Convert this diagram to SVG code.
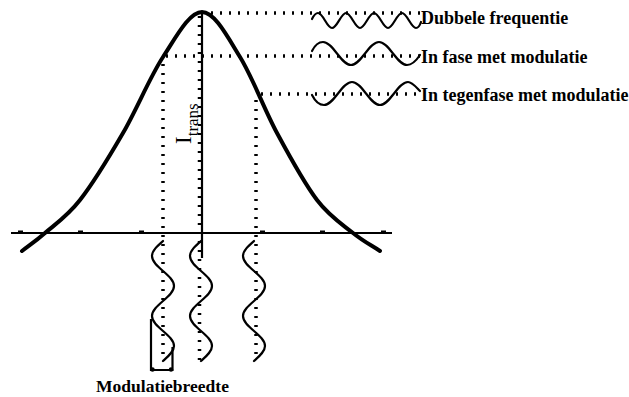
<svg xmlns="http://www.w3.org/2000/svg" width="629" height="397" viewBox="0 0 629 397">
<style>
.curve{fill:none;stroke:#000;stroke-width:4;stroke-linecap:round;stroke-linejoin:round}
.wave{fill:none;stroke:#000;stroke-width:2.2;stroke-linecap:round;stroke-linejoin:round}
.dot{fill:none;stroke:#000;stroke-width:3.5;stroke-dasharray:2 7}
.solid{fill:none;stroke:#000;stroke-width:2.2}
.lbl{font-family:"Liberation Serif","Times New Roman",serif;font-weight:bold;font-size:17.5px;fill:#000}
.rl{font-size:18px}
.sym{font-family:"Liberation Serif","Times New Roman",serif;fill:#000}
</style>
<rect width="629" height="397" fill="#fff"/>
<g id="axis">
<line class="solid" x1="11" y1="233" x2="392" y2="233"/>
<g fill="#000">
<rect x="18" y="230.5" width="5" height="2"/>
<rect x="78" y="230.5" width="5" height="2"/>
<rect x="139" y="230.5" width="5" height="2"/>
<rect x="260" y="230.5" width="5" height="2"/>
<rect x="320" y="230.5" width="5" height="2"/>
<rect x="381" y="230.5" width="5" height="2"/>
</g>
</g>
<g id="curve">
<path class="curve" d="M22,251 C29.7,245 35.3,241.5 45,233 C54.7,224.5 67,216.7 80,200 C93,183.3 109.2,156.8 123,133 C136.8,109.2 149.8,77.2 163,57 C176.2,36.8 189.2,12 202,12 C214.8,12 227.5,36.8 240,57 C252.5,77.2 264.2,109.2 277,133 C289.8,156.8 304.3,183.3 317,200 C329.7,216.7 342.5,224.5 353,233 C363.5,241.5 371,245 380,251"/>
</g>
<g id="connectors">
<line class="solid" x1="202" y1="12" x2="202" y2="258"/>
<line class="dot" x1="199.5" y1="16" x2="199.5" y2="360"/>
<line class="dot" x1="163" y1="64" x2="163" y2="360"/>
<line class="dot" x1="256" y1="100" x2="256" y2="360"/>
<line class="dot" x1="211" y1="13" x2="420" y2="13"/>
<line class="dot" x1="166" y1="56" x2="420" y2="56"/>
<line class="dot" x1="261" y1="94" x2="420" y2="94"/>
</g>
<g id="wave-dubbel">
<path class="wave" d="M312,19 C314,15 316,13 318,13 C323.1,13 326.9,28 332,28 S341.1,13 346,13 S355.1,28 360,28 S369.1,13 374,13 S383.1,28 388,28 S397.1,13 402,13 S411.1,28 416,28 C418,28 420,25 421,22"/>
</g>
<g id="wave-fase">
<path class="wave" d="M312,51 C315,45 318,42 323,42 C333.2,42 340.8,65 351,65 S368.8,42 379,42 S396.8,65 407,65 C411,65 416,61 420,55"/>
</g>
<g id="wave-tegenfase">
<path class="wave" d="M312,95 C315,101 319,105 324,105 C334.2,105 341.8,82 352,82 S369.8,105 380,105 S397.8,82 408,82 C412,82 416,87 420,91"/>
</g>
<g id="wave-left">
<path class="wave" d="M163,241 C157.4,245.9 152,250.6 152,256 C152,266.9 174,275.1 174,286 C174,296.9 152,305.1 152,316 C152,326.9 174,335.1 174,346 C174,351.4 168.4,356.1 163,361"/>
</g>
<g id="wave-mid">
<path class="wave" d="M201,241 C195.4,245.9 190,250.6 190,256 C190,266.9 212,275.1 212,286 C212,296.9 190,305.1 190,316 C190,326.9 212,335.1 212,346 C212,351.4 206.4,356.1 201,361"/>
</g>
<g id="wave-right">
<path class="wave" d="M254,241 C248.4,245.9 243,250.6 243,256 C243,266.9 265,275.1 265,286 C265,296.9 243,305.1 243,316 C243,326.9 265,335.1 265,346 C265,351.4 259.4,356.1 254,361"/>
</g>
<g id="modulatiebreedte">
<path class="solid" d="M151,319 V370 H172.5 V347"/>
<circle cx="152.5" cy="369.5" r="2.2" fill="#000"/>
<circle cx="171" cy="369.5" r="2.2" fill="#000"/>
<text class="lbl" x="162.5" y="392" text-anchor="middle">Modulatiebreedte</text>
</g>
<g id="labels">
<text class="lbl rl" x="421" y="24">Dubbele frequentie</text>
<text class="lbl rl" x="421" y="63">In fase met modulatie</text>
<text class="lbl rl" x="421" y="101">In tegenfase met modulatie</text>
<text class="sym" transform="translate(191,144) rotate(-90)"><tspan font-size="23">I</tspan><tspan font-size="17" dy="7">trans</tspan></text>
</g>
</svg>
